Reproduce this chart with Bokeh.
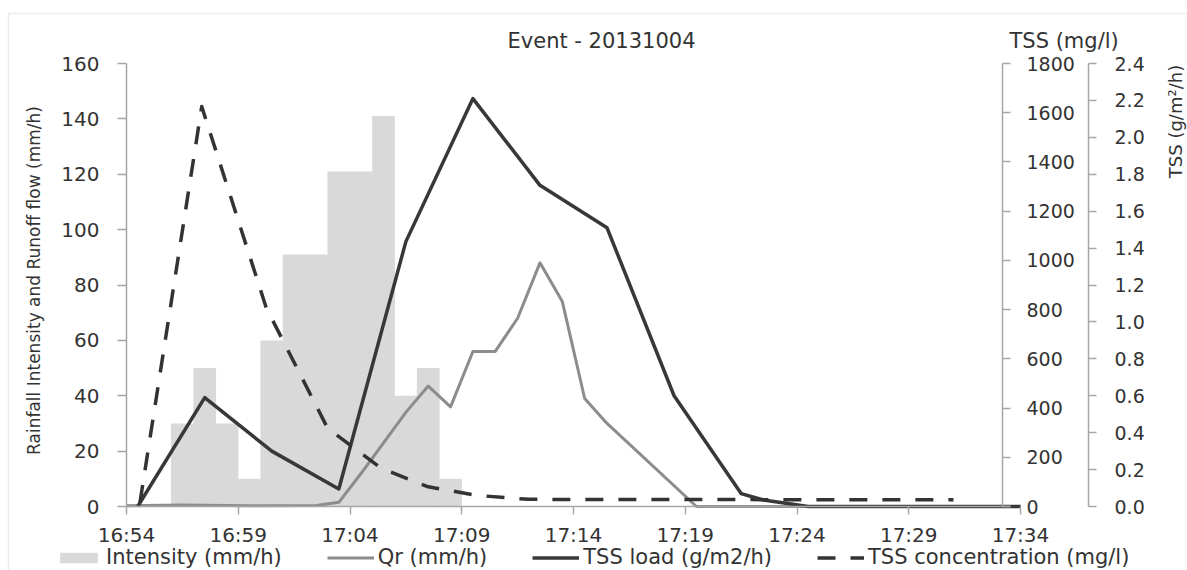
import numpy as np
import pandas as pd
from bokeh.plotting import figure
from bokeh.models import (Range1d, LinearAxis, DatetimeAxis, FixedTicker, DatetimeTickFormatter,
                          NumeralTickFormatter, ColumnDataSource, Legend, LegendItem,
                          Label, BoxAnnotation)
from bokeh.embed import file_html
from bokeh.resources import INLINE

# ---------------- data ----------------
DATE = "2013-10-04"
title_text = "Event - 20131004"
x_tick_labels = ["16:54", "16:59", "17:04", "17:09", "17:14", "17:19", "17:24", "17:29", "17:34"]
left_ticks = [0, 20, 40, 60, 80, 100, 120, 140, 160]
conc_ticks = [0, 200, 400, 600, 800, 1000, 1200, 1400, 1600, 1800]
load_ticks = [0.0, 0.2, 0.4, 0.6, 0.8, 1.0, 1.2, 1.4, 1.6, 1.8, 2.0, 2.2, 2.4]

# rainfall intensity, one bar per minute (start of the minute)
intensity_start = ["16:56", "16:57", "16:58", "16:59", "17:00", "17:01", "17:02",
                   "17:03", "17:04", "17:05", "17:06", "17:07", "17:08"]
intensity_mmh = [30, 50, 30, 10, 60, 91, 91, 121, 121, 141, 40, 50, 10]

# runoff flow Qr (mm/h)
qr_times = ["16:54:00", "16:56:30", "16:59:30", "17:02:30", "17:03:30", "17:04:30",
            "17:05:30", "17:06:30", "17:07:30", "17:08:30", "17:09:30", "17:10:30",
            "17:11:30", "17:12:30", "17:13:30", "17:14:30", "17:15:30", "17:19:30", "17:34:00"]
qr_mmh = [0.3, 0.5, 0.3, 0.4, 1.5, 12, 23, 34, 43.5, 36, 56, 56,
          68, 88, 74, 39, 30, 0, 0]

# TSS load (g/m2/h)
load_times = ["16:54:30", "16:57:30", "17:00:30", "17:03:30", "17:06:30", "17:09:30",
              "17:12:30", "17:15:30", "17:18:30", "17:21:30", "17:22:30", "17:24:30", "17:34:00"]
load_gm2h = [0.0, 0.59, 0.30, 0.095, 1.435, 2.21, 1.74, 1.51, 0.60, 0.07, 0.035, 0.0, 0.0]

# TSS concentration (mg/l)
conc_times = ["16:54:36", "16:57:22", "17:00:15", "17:03:00", "17:05:24", "17:07:30",
              "17:09:42", "17:12:00", "17:31:00"]
conc_mgl = [15, 1625, 808, 318, 155, 80, 45, 29, 27]


def ts(hms):
    return pd.Timestamp(f"{DATE} {hms}")


def ms(t):
    return (t - pd.Timestamp("1970-01-01")) / pd.Timedelta(milliseconds=1)


# ---------------- layout (pixel anchors of the chart) ----------------
W, H = 1187, 570
PX0, PX1 = 126, 1020      # pixel of first / last time tick
PY0, PY1 = 506, 63        # pixel of y = 0 / y = max
FONT = "DejaVu Sans"
TXT = "#333333"
AX = "#a6a6a6"

x0, x1 = ms(ts(x_tick_labels[0])), ms(ts(x_tick_labels[-1]))
ymax = left_ticks[-1]
kx = (x1 - x0) / (PX1 - PX0)          # ms per pixel
ky = ymax / (PY0 - PY1)               # units per pixel


def px_to_x(px):
    return x0 + (px - PX0) * kx


def py_to_y(py):
    return (PY0 - py) * ky


f_conc = conc_ticks[-1] / ymax
f_load = load_ticks[-1] / ymax

p = figure(width=W, height=H, x_axis_type=None, y_axis_type=None, title=None,
           output_backend="svg", toolbar_location=None,
           x_range=Range1d(px_to_x(0), px_to_x(W)),
           y_range=Range1d(py_to_y(H), py_to_y(0)),
           min_border_left=0, min_border_right=0, min_border_top=0, min_border_bottom=0)
p.extra_y_ranges = {
    "conc": Range1d(py_to_y(H) * f_conc, py_to_y(0) * f_conc),
    "load": Range1d(py_to_y(H) * f_load, py_to_y(0) * f_load),
}
p.outline_line_color = None
p.background_fill_color = "white"
p.border_fill_color = "white"

# chart border
p.add_layout(BoxAnnotation(left=px_to_x(8), right=px_to_x(W + 50), top=py_to_y(13),
                           bottom=py_to_y(H + 50), fill_alpha=0, line_color="#bfbfbf",
                           line_width=1.5, level="underlay"))

# sources
bar_src = ColumnDataSource(dict(
    x=[ts(t) + pd.Timedelta(seconds=30) for t in intensity_start],
    top=intensity_mmh))
qr_src = ColumnDataSource(dict(x=[ts(t) for t in qr_times], y=qr_mmh))
load_src = ColumnDataSource(dict(x=[ts(t) for t in load_times], y=load_gm2h))
conc_src = ColumnDataSource(dict(x=[ts(t) for t in conc_times], y=conc_mgl))

r_bar = p.vbar(x="x", top="top", bottom=0, width=61000, source=bar_src,
               fill_color="#d9d9d9", line_color=None)
r_qr = p.line("x", "y", source=qr_src, line_color="#8c8c8c", line_width=3,
              line_join="round")
r_load = p.line("x", "y", source=load_src, y_range_name="load", line_color="#383838",
                line_width=3.5, line_join="round")
r_conc = p.line("x", "y", source=conc_src, y_range_name="conc", line_color="#333333",
                line_width=3.5, line_dash="18 15", line_join="round")


# axes
def style_axis(ax, size, standoff, tick_out=8):
    ax.axis_line_color = AX
    ax.axis_line_width = 1.5
    ax.major_tick_line_color = AX
    ax.major_tick_line_width = 1.5
    ax.major_tick_out = tick_out
    ax.major_tick_in = 0
    ax.minor_tick_out = 0
    ax.minor_tick_in = 0
    ax.major_label_text_font = FONT
    ax.major_label_text_font_size = f"{size}px"
    ax.major_label_text_color = TXT
    ax.major_label_standoff = standoff


xax = DatetimeAxis(ticker=FixedTicker(ticks=[ms(ts(t)) for t in x_tick_labels]),
                   formatter=DatetimeTickFormatter(minutes="%H:%M", hourmin="%H:%M",
                                                   hours="%H:%M", minsec="%H:%M",
                                                   seconds="%H:%M"),
                   fixed_location=0, bounds=(px_to_x(PX0), px_to_x(1010)))
style_axis(xax, 20, 8)
p.add_layout(xax, "below")

yax = LinearAxis(ticker=FixedTicker(ticks=left_ticks), fixed_location=x0,
                 bounds=(0, ymax))
style_axis(yax, 20, 18, tick_out=9)
p.add_layout(yax, "left")

ax_conc = LinearAxis(y_range_name="conc", ticker=FixedTicker(ticks=conc_ticks),
                     fixed_location=px_to_x(1002), bounds=(0, conc_ticks[-1]))
style_axis(ax_conc, 19, 16)
p.add_layout(ax_conc, "right")

ax_load = LinearAxis(y_range_name="load", ticker=FixedTicker(ticks=load_ticks),
                     formatter=NumeralTickFormatter(format="0.0"),
                     fixed_location=px_to_x(1088), bounds=(0, load_ticks[-1]))
style_axis(ax_load, 19, 18)
p.add_layout(ax_load, "right")

# texts
p.add_layout(Label(x=px_to_x(33), y=py_to_y(280),
                   text="Rainfall Intensity and Runoff flow (mm/h)", angle=np.pi / 2,
                   text_align="center", text_baseline="middle", text_font=FONT,
                   text_font_size="17px", text_color=TXT))
p.add_layout(Label(x=px_to_x(601), y=py_to_y(40), text=title_text, text_align="center",
                   text_baseline="middle", text_font=FONT, text_font_size="21px",
                   text_color=TXT))
p.add_layout(Label(x=px_to_x(1009), y=py_to_y(40), text="TSS (mg/l)", text_align="left",
                   text_baseline="middle", text_font=FONT, text_font_size="21px",
                   text_color=TXT))
p.add_layout(Label(x=px_to_x(1175), y=py_to_y(121), text="TSS (g/m\u00b2/h)",
                   angle=np.pi / 2, text_align="center", text_baseline="middle",
                   text_font=FONT, text_font_size="18px", text_color=TXT))

legend = Legend(items=[
    LegendItem(label="Intensity (mm/h)", renderers=[r_bar]),
    LegendItem(label="Qr (mm/h)", renderers=[r_qr]),
    LegendItem(label="TSS load (g/m2/h)", renderers=[r_load]),
    LegendItem(label="TSS concentration (mg/l)", renderers=[r_conc]),
], orientation="horizontal", location=(55, 1), glyph_width=47,
    glyph_height=13, label_standoff=4, spacing=45, padding=0, margin=0,
    border_line_color=None, background_fill_alpha=0, label_text_font=FONT,
    label_text_font_size="21px", label_text_color=TXT)
p.add_layout(legend)

open("out.html", "w").write(file_html(p, INLINE))
